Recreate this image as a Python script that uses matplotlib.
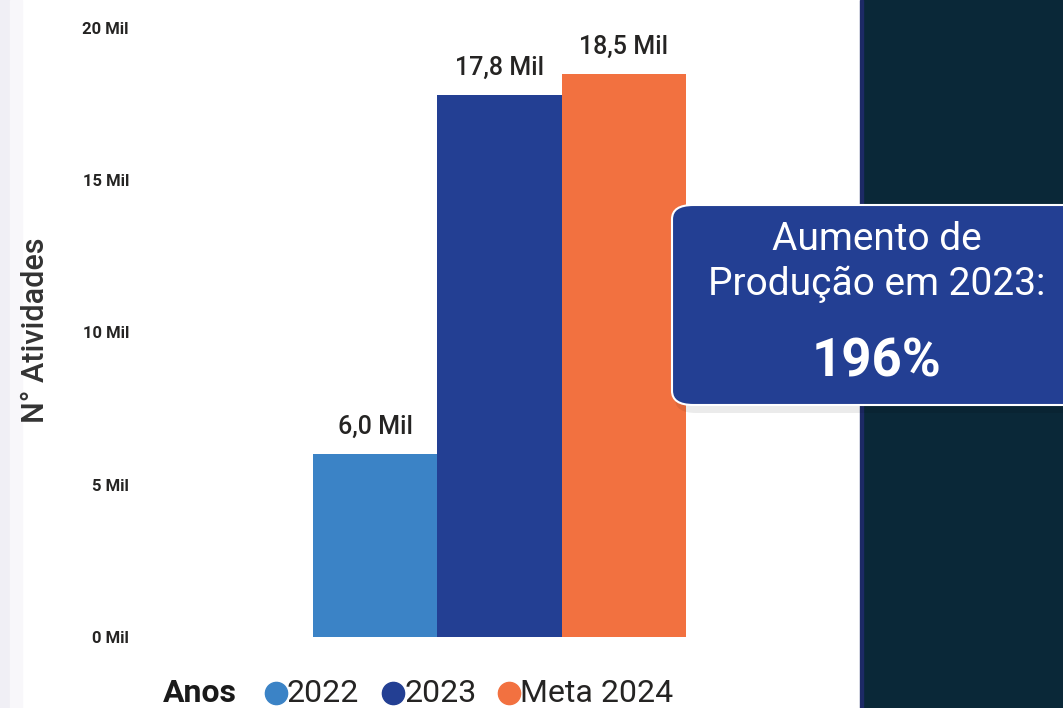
import matplotlib.pyplot as plt
from matplotlib.patches import FancyBboxPatch, Rectangle

plt.rcParams['font.family'] = ['Roboto', 'DejaVu Sans']

# dados (em mil)
anos = ['2022', '2023', 'Meta 2024']
atividades = [6.0, 17.8, 18.5]
cores = ['#3b83c6', '#233f93', '#f27140']
yticks = [0, 5, 10, 15, 20]
aumento = '196%'

W, H = 1063, 708
fig = plt.figure(figsize=(W / 100, H / 100), dpi=100)
fig.patch.set_facecolor('white')

# faixa lateral e painel escuro
fig.patches.append(Rectangle((0, 0), 10 / W, 1, transform=fig.transFigure,
                             color='#f0eff5', zorder=0))
fig.patches.append(Rectangle((10 / W, 0), 12 / W, 1, transform=fig.transFigure,
                             color='#f8f7fa', zorder=0))
fig.patches.append(Rectangle((862 / W, 0), 1, 1, transform=fig.transFigure,
                             color='#0a2838', zorder=0))
fig.patches.append(Rectangle((860 / W, 0), 3 / W, 1, transform=fig.transFigure,
                             color='#1d2a66', zorder=0))

# eixo do gráfico
left, right = 140, 860
ax = fig.add_axes([left / W, (H - 637) / H, (right - left) / W, (637 - 28) / H])
ax.set_facecolor('none')
px = 124.3
ax.set_xlim(-0.5 - (313 - left) / px, 2.5 + (right - 686) / px)
ax.set_ylim(0, 20)

x = range(len(anos))
bars = ax.bar(x, atividades, width=1.0, color=cores, zorder=2)
for xi, v in zip(x, atividades):
    ax.text(xi, v + 0.5, f'{v:.1f}'.replace('.', ',') + ' Mil', ha='center', va='bottom',
            fontsize=18, fontweight='medium', color='#252423')

ax.set_yticks(yticks)
ax.set_yticklabels([f'{t} Mil' for t in yticks], fontsize=12, fontweight='bold', color='#252423')
ax.set_xticks([])
ax.tick_params(axis='y', length=0, pad=8)
for s in ax.spines.values():
    s.set_visible(False)
fig.text(36 / W, 1 - 330 / H, 'N° Atividades', rotation=90, ha='center', va='center',
         fontsize=22, fontweight='medium', color='#333333')

# legenda
ly = 1 - 693 / H
fig.text(163 / W, ly, 'Anos', ha='left', va='center', fontsize=23, fontweight='bold', color='#1a1a1a')
lx = [276, 393, 509]
for pos, nome, cor in zip(lx, anos, cores):
    fig.lines.append(plt.Line2D([pos / W], [ly], marker='o', markersize=16, color=cor,
                                transform=fig.transFigure))
    fig.text((pos + 11) / W, ly, nome, ha='left', va='center', fontsize=23, color='#252423')

# caixa de destaque
bx, by, bw, bh = 672, 205, 420, 200
shadow = FancyBboxPatch(((bx + 3) / W, 1 - (by + bh + 8) / H), bw / W, bh / H,
                        boxstyle='round,pad=0,rounding_size=0.02', transform=fig.transFigure,
                        facecolor='#000000', alpha=0.08, edgecolor='none', zorder=3)
fig.patches.append(shadow)
box = FancyBboxPatch((bx / W, 1 - (by + bh) / H), bw / W, bh / H,
                     boxstyle='round,pad=0,rounding_size=0.02', transform=fig.transFigure,
                     facecolor='#233f93', edgecolor='white', linewidth=1.5, zorder=4)
fig.patches.append(box)
cx = 877 / W
fig.text(cx, 1 - 240 / H, 'Aumento de', ha='center', va='center', fontsize=28,
         color='white', zorder=5)
fig.text(cx, 1 - 284 / H, 'Produção em 2023:', ha='center', va='center', fontsize=28,
         color='white', zorder=5)
fig.text(cx, 1 - 362 / H, aumento, ha='center', va='center', fontsize=38, fontweight='bold',
         color='white', zorder=5)

fig.savefig('out.png', dpi=100)
